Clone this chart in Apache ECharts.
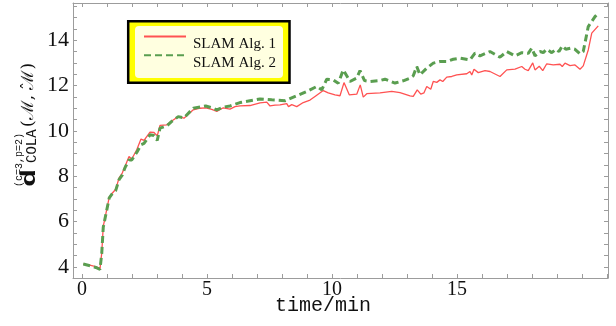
<!DOCTYPE html>
<html>
<head>
<meta charset="utf-8">
<script src="https://cdn.jsdelivr.net/npm/echarts@6/dist/echarts.min.js"></script>
<style>
  html, body { margin: 0; padding: 0; background: #fff; }
  #chart { width: 616px; height: 326px; }
</style>
</head>
<body>
<div id="chart"></div>
<script>
// Distance d_COLA over time for two SLAM algorithms
const seriesNames = ['SLAM Alg. 1', 'SLAM Alg. 2'];

const alg1Time = [0.05, 0.35, 0.55, 0.72, 0.79, 0.85, 0.96, 1.09, 1.19, 1.35, 1.48, 1.61, 1.72, 1.88, 1.99,
  2.19, 2.36, 2.48, 2.72, 2.88, 3.01, 3.12, 3.39, 3.59, 3.85, 4.08, 4.45, 4.72, 4.95, 5.19, 5.39, 5.65,
  5.92, 6.12, 6.32, 6.72, 7.12, 7.39, 7.52, 7.72, 7.92, 8.19, 8.26, 8.39, 8.59, 8.85, 9.12, 9.32, 9.65,
  9.85, 10.12, 10.32, 10.48, 10.69, 10.99, 11.13, 11.25, 11.39, 11.92, 12.39, 12.72, 13.12, 13.25, 13.41,
  13.55, 13.68, 13.79, 13.95, 14.05, 14.19, 14.32, 14.43, 14.59, 14.79, 14.99, 15.39, 15.52, 15.59, 15.68,
  15.85, 16.12, 16.32, 16.72, 16.99, 17.32, 17.59, 17.72, 17.85, 18.03, 18.12, 18.29, 18.43, 18.59, 18.85,
  19.12, 19.21, 19.32, 19.52, 19.72, 19.92, 20.05, 20.25, 20.39, 20.65];
const alg1Dist = [4.13, 4.07, 4.02, 3.93, 4.62, 5.79, 6.38, 7.08, 7.23, 7.43, 7.92, 8.14, 8.43, 8.87, 8.76,
  9.17, 9.64, 9.58, 9.95, 9.93, 9.78, 10.24, 10.27, 10.44, 10.63, 10.56, 10.93, 11.0, 11.02, 10.95, 10.86, 11.02,
  10.96, 11.07, 11.1, 11.12, 11.24, 11.27, 11.1, 11.14, 11.15, 11.2, 11.07, 11.16, 11.07, 11.25, 11.36, 11.52, 11.78,
  11.68, 11.59, 11.55, 12.13, 11.59, 11.62, 12.03, 11.49, 11.64, 11.68, 11.74, 11.69, 11.55, 11.52, 11.81,
  11.62, 11.68, 11.96, 11.84, 12.18, 12.14, 12.25, 12.18, 12.37, 12.4, 12.47, 12.52, 12.62, 12.47, 12.72,
  12.57, 12.66, 12.62, 12.4, 12.69, 12.72, 12.84, 12.72, 12.66, 13.0, 12.69, 12.85, 12.66, 12.96, 12.91,
  12.94, 12.84, 12.99, 12.88, 12.91, 12.72, 12.87, 13.57, 14.31, 14.63];

const alg2Time = [0.05, 0.35, 0.55, 0.72, 0.79, 0.85, 0.96, 1.09, 1.19, 1.35, 1.48, 1.61, 1.72, 1.88, 1.99,
  2.19, 2.36, 2.48, 2.72, 2.88, 3.01, 3.12, 3.39, 3.59, 3.85, 4.08, 4.45, 4.72, 4.95, 5.19, 5.39, 5.65,
  5.92, 6.32, 6.72, 7.12, 7.59, 8.12, 8.59, 8.99, 9.39, 9.59, 9.79, 10.05, 10.25, 10.45, 10.72, 10.99,
  11.12, 11.3, 11.52, 11.92, 12.12, 12.52, 12.85, 13.12, 13.25, 13.39, 13.52, 13.79, 14.05, 14.32, 14.59,
  14.85, 15.12, 15.52, 15.72, 15.92, 16.32, 16.72, 16.99, 17.32, 17.59, 17.85, 17.99, 18.12, 18.32, 18.45,
  18.59, 18.79, 18.96, 19.08, 19.21, 19.35, 19.55, 19.72, 19.92, 20.05, 20.25, 20.52, 20.65];
const alg2Dist = [4.13, 4.05, 3.98, 3.9, 4.6, 5.75, 6.35, 7.05, 7.2, 7.38, 7.85, 8.05, 8.38, 8.72, 8.72,
  9.05, 9.39, 9.45, 9.83, 9.8, 9.58, 10.12, 10.22, 10.42, 10.63, 10.58, 11.0, 11.05, 11.1, 11.02, 10.93, 11.05,
  11.1, 11.25, 11.33, 11.41, 11.37, 11.33, 11.55, 11.74, 11.96, 11.81, 12.28, 12.25, 12.1, 12.69, 12.18, 12.33,
  12.66, 12.22, 12.18, 12.22, 12.28, 12.11, 12.21, 12.33, 12.43, 12.84, 12.47, 12.77, 12.99, 13.06, 13.06,
  13.16, 13.21, 13.13, 13.43, 13.31, 13.5, 13.25, 13.5, 13.31, 13.45, 13.42, 13.65, 13.31, 13.5, 13.45,
  13.6, 13.45, 13.6, 13.5, 13.75, 13.6, 13.65, 13.6, 13.4, 13.5, 14.6, 15.04, 15.19];

// Axis ticks and labels
const xLabelValues = [0, 5, 10, 15];
const xTickValues = [0, 1, 2, 3, 4, 5, 6, 7, 8, 9, 10, 11, 12, 13, 14, 15, 16, 17, 18, 19, 20, 21];
const yLabelValues = [4, 6, 8, 10, 12, 14];
const yTickValues = [4, 4.5, 5, 5.5, 6, 6.5, 7, 7.5, 8, 8.5, 9, 9.5, 10, 10.5, 11, 11.5, 12, 12.5,
  13, 13.5, 14, 14.5, 15, 15.5];

const X_MIN = -0.36, X_MAX = 21.04;
const Y_MIN = 3.515, Y_MAX = 15.64;

const FRAME = '#9c9c9c';
const RED = '#ff5252';
const GREEN = '#5a9e50';
const INK = '#111';

function xAxisDef(position, withLabels) {
  return {
    type: 'value', position: position, min: X_MIN, max: X_MAX,
    axisLine: { show: true, onZero: false, lineStyle: { color: FRAME, width: 1 } },
    axisTick: { show: true, inside: true, length: 4, customValues: xTickValues,
      lineStyle: { color: FRAME, width: 1 } },
    axisLabel: withLabels ? {
      show: true, customValues: xLabelValues, margin: 2,
      fontFamily: 'Liberation Serif', fontSize: 20, color: INK
    } : { show: false },
    splitLine: { show: false }
  };
}
function yAxisDef(position, withLabels) {
  return {
    type: 'value', position: position, min: Y_MIN, max: Y_MAX,
    axisLine: { show: true, onZero: false, lineStyle: { color: FRAME, width: 1 } },
    axisTick: { show: true, inside: true, length: 4, customValues: yTickValues,
      lineStyle: { color: FRAME, width: 1 } },
    axisLabel: withLabels ? {
      show: true, customValues: yLabelValues, margin: 4,
      fontFamily: 'Liberation Serif', fontSize: 22, color: INK
    } : { show: false },
    splitLine: { show: false }
  };
}

function plainText(x, y, text, font, extra) {
  return Object.assign({ type: 'text', x: x, y: y,
    style: { text: text, font: font, fill: INK,
      align: 'left', verticalAlign: 'middle', textAlign: 'left', textVerticalAlign: 'middle' } }, extra || {});
}

const chart = echarts.init(document.getElementById('chart'), null, { renderer: 'canvas' });

const option = {
  animation: false,
  backgroundColor: '#ffffff',
  grid: { left: 73, right: 8, top: 3, bottom: 48, containLabel: false },
  xAxis: [xAxisDef('bottom', true), xAxisDef('top', false)],
  yAxis: [yAxisDef('left', true), yAxisDef('right', false)],
  legend: {
    orient: 'vertical', left: 143, top: 31, padding: 0,
    itemWidth: 42, itemHeight: 14, itemGap: -2,
    selectedMode: false, z: 10,
    itemStyle: { opacity: 0, color: 'rgba(0,0,0,0)', borderColor: 'rgba(0,0,0,0)', borderWidth: 0 },
    formatter: function (name) { return '{s| }{t|' + name + '}'; },
    textStyle: {
      color: INK,
      rich: {
        s: { fontSize: 1, lineHeight: 30, width: 2 },
        t: { fontFamily: 'Liberation Serif', fontSize: 15, lineHeight: 15, color: INK, verticalAlign: 'bottom' }
      }
    },
    data: seriesNames
  },
  graphic: [
    // legend frame: black border, yellow band, pale inner panel
    { type: 'rect', z: 1, shape: { x: 128.2, y: 21.2, width: 161.3, height: 61.6 },
      style: { fill: '#ffff00', stroke: '#000', lineWidth: 2.5 } },
    { type: 'rect', z: 2, shape: { x: 135, y: 26, width: 148, height: 52, r: 4 },
      style: { fill: '#ffffe0' } },
    // x axis title
    { type: 'text', z: 5, x: 323, y: 306,
      style: { text: 'time/min', font: '20px "Liberation Mono", monospace', fill: INK,
        align: 'center', verticalAlign: 'middle', textAlign: 'center', textVerticalAlign: 'middle' } },
    // y axis title, rotated to read bottom-to-top
    { type: 'group', x: 0, y: 187, rotation: Math.PI / 2, z: 5,
      children: [
        plainText(0, 30, 'd', 'bold 20px "Liberation Mono", monospace', { scaleX: 1.5, originX: 0 }),
        plainText(0, 19, '(c=3,p=2)', '10px "Liberation Mono", monospace'),
        plainText(24, 32, 'COLA', '14px "Liberation Mono", monospace'),
        plainText(60, 29, '(\u2133, \u2133)', '17px "DejaVu Serif", serif'),
        plainText(97, 29, '\u02C6', '16px "DejaVu Serif", serif')
      ] }
  ],
  series: [
    { name: seriesNames[0], type: 'line', xAxisIndex: 0, yAxisIndex: 0,
      symbol: 'none', showSymbol: false, z: 3,
      lineStyle: { color: RED, width: 1.3 }, itemStyle: { color: RED },
      data: alg1Time.map((t, i) => [t, alg1Dist[i]]) },
    { name: seriesNames[1], type: 'line', xAxisIndex: 0, yAxisIndex: 0,
      symbol: 'none', showSymbol: false, z: 4,
      lineStyle: { color: GREEN, width: 3, type: [7, 4] }, itemStyle: { color: GREEN },
      data: alg2Time.map((t, i) => [t, alg2Dist[i]]) }
  ]
};

chart.setOption(option);
</script>
</body>
</html>
